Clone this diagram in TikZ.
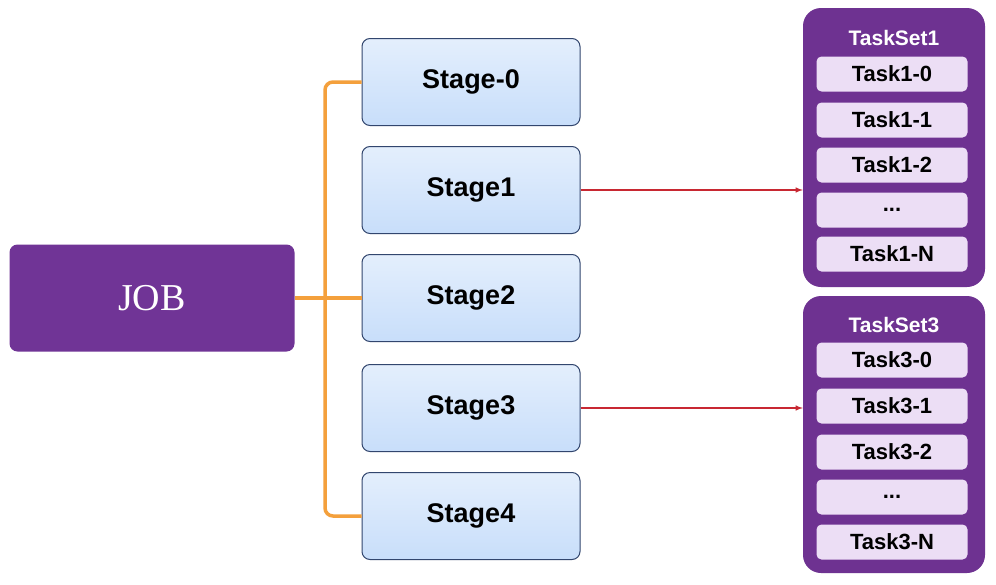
\documentclass[tikz,border=0pt]{standalone}
\usepackage{fontspec}
\setmainfont{Liberation Sans}
\newfontfamily\jobfont{Liberation Serif}
\usetikzlibrary{positioning}
\definecolor{jobpurple}{RGB}{112,52,150}
\definecolor{setpurple}{RGB}{110,50,145}
\definecolor{taskfill}{RGB}{236,222,245}
\definecolor{stagefill}{RGB}{200,222,250}
\definecolor{stageline}{RGB}{50,70,110}
\definecolor{linkorange}{RGB}{244,160,60}
\definecolor{linkred}{RGB}{200,40,50}
\tikzset{>=latex,
  stage/.style={draw=stageline, line width=1pt, rounded corners=8pt, top color=stagefill!50, bottom color=stagefill,
    minimum width=218pt, minimum height=87pt, font=\bfseries\fontsize{27}{29}\selectfont},
  taskset/.style={fill=setpurple, rounded corners=18pt, minimum width=182pt},
  task/.style={fill=taskfill, rounded corners=5pt, minimum width=151pt, minimum height=35pt,
    font=\bfseries\fontsize{22}{24}\selectfont},
  link/.style={linkorange, line width=3.5pt, rounded corners=8pt},
  spawn/.style={->, linkred, line width=1.5pt}
}
\begin{document}
\begin{tikzpicture}[x=1pt, y=-1pt]
	\useasboundingbox[fill=white] (0,0) rectangle (996,584);

	% Job
	\node[fill=jobpurple, rounded corners=8pt, minimum width=285pt, minimum height=107pt,
	  text=white, font=\jobfont\fontsize{38}{40}\selectfont] (job) at (152,298) {JOB};

	% Stages
	\node[stage] (s0) at (471,82) {Stage-0};
	\node[stage] (s1) at (471,190) {Stage1};
	\node[stage] (s2) at (471,298) {Stage2};
	\node[stage] (s3) at (471,408) {Stage3};
	\node[stage] (s4) at (471,516) {Stage4};

	%% Task sets
	\node[taskset, minimum height=279pt] (ts1) at (894,147.5) {};
	\node[taskset, minimum height=277pt] (ts3) at (894,434.5) {};
	\node[text=white, font=\bfseries\fontsize{21}{23}\selectfont] (t1) at (894,38) {TaskSet1};
	\node[text=white, font=\bfseries\fontsize{21}{23}\selectfont] (t3) at (894,325) {TaskSet3};
	\node[task] (a0) at (892,74) {Task1-0};
	\node[task] (a1) at (892,120) {Task1-1};
	\node[task] (a2) at (892,165) {Task1-2};
	\node[task] (a3) at (892,210) {...};
	\node[task] (a4) at (892,254) {Task1-N};
	\node[task] (b0) at (892,360) {Task3-0};
	\node[task] (b1) at (892,406) {Task3-1};
	\node[task] (b2) at (892,452) {Task3-2};
	\node[task] (b3) at (892,497) {...};
	\node[task] (b4) at (892,542) {Task3-N};

	%% Links
	\coordinate (bus) at (325,298);
	\draw[link] (job.east) -- (s2.west);
	\draw[link] (bus) |- (s0.west);
	\draw[link] (bus) |- (s4.west);
	\draw[spawn] (s1.east) -- (ts1.west |- s1.east);
	\draw[spawn] (s3.east) -- (ts3.west |- s3.east);
\end{tikzpicture}
\end{document}
